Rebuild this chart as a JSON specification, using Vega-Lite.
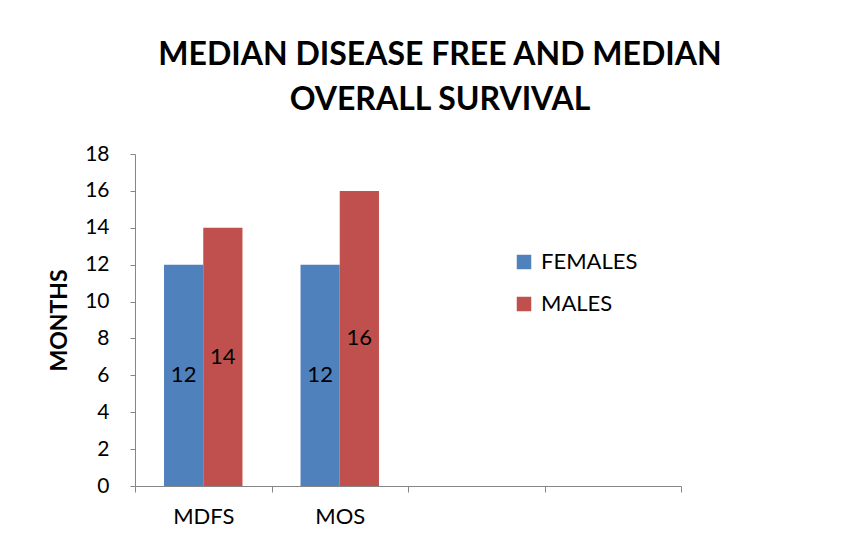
{
  "$schema": "https://vega.github.io/schema/vega-lite/v6.json",
  "width": 546,
  "height": 332,
  "autosize": {"type": "none"},
  "padding": {"left": 135, "top": 154, "right": 177, "bottom": 61},
  "background": "white",
  "title": {
    "text": ["MEDIAN DISEASE FREE AND MEDIAN", "OVERALL SURVIVAL"],
    "font": "Lato",
    "fontSize": 32,
    "fontWeight": "bold",
    "color": "black",
    "anchor": "middle",
    "dx": 32,
    "lineHeight": 45,
    "offset": 26
  },
  "data": {
    "values": [
      {"measure": "MDFS", "sex": "FEMALES", "months": 12},
      {"measure": "MDFS", "sex": "MALES", "months": 14},
      {"measure": "MOS", "sex": "FEMALES", "months": 12},
      {"measure": "MOS", "sex": "MALES", "months": 16}
    ]
  },
  "encoding": {
    "x": {
      "field": "measure",
      "type": "nominal",
      "scale": {"domain": ["MDFS", "MOS", "_3", "_4"], "paddingInner": 0, "paddingOuter": 0},
      "axis": {
        "title": null,
        "labelExpr": "indexof(['MDFS','MOS'], datum.value) >= 0 ? datum.value : ''",
        "labelAngle": 0,
        "tickBand": "extent",
        "domainColor": "#868686",
        "tickColor": "#868686",
        "tickSize": 6,
        "labelFont": "Lato",
        "labelFontSize": 22,
        "labelColor": "black",
        "labelPadding": 14
      }
    },
    "xOffset": {
      "field": "sex",
      "type": "nominal",
      "scale": {"domain": ["FEMALES", "MALES"], "paddingInner": 0, "paddingOuter": 0.74}
    }
  },
  "layer": [
    {
      "mark": {"type": "bar"},
      "encoding": {
        "y": {
          "field": "months",
          "type": "quantitative",
          "scale": {"domain": [0, 18]},
          "axis": {
            "title": "MONTHS",
            "titleFont": "Lato",
            "titleFontSize": 23,
            "titleFontWeight": "bold",
            "titleColor": "black",
            "titlePadding": 13,
            "values": [0, 2, 4, 6, 8, 10, 12, 14, 16, 18],
            "grid": false,
            "domainColor": "#868686",
            "tickColor": "#868686",
            "tickSize": 5,
            "labelFont": "Lato",
            "labelFontSize": 21,
            "labelColor": "black",
            "labelPadding": 21
          }
        },
        "color": {
          "field": "sex",
          "type": "nominal",
          "scale": {"domain": ["FEMALES", "MALES"], "range": ["#4F81BD", "#C0504D"]},
          "legend": {
            "title": null,
            "orient": "none",
            "legendX": 378,
            "legendY": 97,
            "symbolType": "square",
            "symbolSize": 210,
            "symbolStrokeWidth": 0,
            "symbolOpacity": 1,
            "labelFont": "Lato",
            "labelFontSize": 22,
            "labelColor": "black",
            "labelOffset": 6,
            "rowPadding": 20
          }
        }
      }
    },
    {
      "mark": {"type": "text", "font": "Lato", "fontSize": 22, "color": "black"},
      "encoding": {
        "y": {
          "field": "months",
          "type": "quantitative",
          "scale": {"domain": [0, 36]},
          "axis": null
        },
        "text": {"field": "months", "type": "quantitative"}
      }
    }
  ],
  "resolve": {"scale": {"y": "independent"}},
  "config": {"view": {"stroke": null}}
}
